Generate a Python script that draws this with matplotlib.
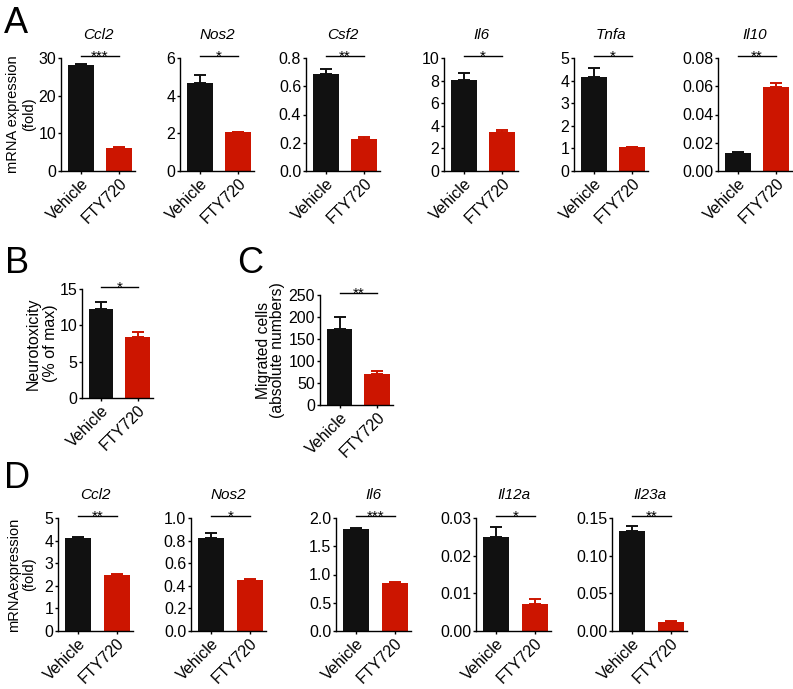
"""
Painéis A-D: expressão de mRNA, neurotoxicidade e migração (Vehicle x FTY720)
"""

import matplotlib.pyplot as plt
from matplotlib.ticker import FormatStrFormatter

plt.rcParams['font.family'] = ['Liberation Sans', 'DejaVu Sans']

# =============================================================
# Dados
# =============================================================

groups = ['Vehicle', 'FTY720']

# Painel A
a_genes = ['Ccl2', 'Nos2', 'Csf2', 'Il6', 'Tnfa', 'Il10']
a_vehicle = [28.2, 4.65, 0.69, 8.05, 4.15, 0.0130]
a_vehicle_err = [0.2, 0.45, 0.03, 0.65, 0.40, 0.0004]
a_fty = [6.2, 2.05, 0.225, 3.45, 1.05, 0.0595]
a_fty_err = [0.1, 0.02, 0.015, 0.15, 0.01, 0.0025]
a_ymax = [30, 6, 0.8, 10, 5, 0.08]
a_ystep = [10, 2, 0.2, 2, 1, 0.02]
a_decimals = [0, 0, 1, 0, 0, 2]
a_stars = ['***', '*', '**', '*', '*', '**']

# Painel B
b_values = [12.2, 8.4]
b_err = [1.0, 0.7]

# Painel C
c_values = [172, 71]
c_err = [27, 7]

# Painel D
d_genes = ['Ccl2', 'Nos2', 'Il6', 'Il12a', 'Il23a']
d_vehicle = [4.1, 0.82, 1.81, 0.025, 0.133]
d_vehicle_err = [0.05, 0.05, 0.01, 0.0025, 0.006]
d_fty = [2.5, 0.45, 0.85, 0.0072, 0.012]
d_fty_err = [0.02, 0.01, 0.02, 0.0014, 0.001]
d_ymax = [5, 1.0, 2.0, 0.03, 0.15]
d_ystep = [1, 0.2, 0.5, 0.01, 0.05]
d_decimals = [0, 1, 1, 2, 2]
d_stars = ['**', '*', '***', '*', '**']

# =============================================================
# Estilo e layout (pixels)
# =============================================================

W, H = 793, 689
BLACK = '#111111'
RED = '#cc1500'

fig = plt.figure(figsize=(W / 100, H / 100), dpi=100)


def add_axes_px(left, top, right, bottom):
    return fig.add_axes([left / W, 1 - bottom / H, (right - left) / W, (bottom - top) / H])


def draw_bars(ax, vals, errs, ymax, step, decimals, stars, title=None):
    xs = [0, 1]
    colors = [BLACK, RED]
    for x, v, e, c in zip(xs, vals, errs, colors):
        ax.bar(x, v, width=0.68, color=c, zorder=2)
        ax.errorbar(x, v, yerr=[[0], [e]], color=c, capsize=4.5,
                    elinewidth=1.4, capthick=1.4, zorder=1)
    ax.set_xlim(-0.52, 1.42)
    ax.set_ylim(0, ymax)
    n = int(round(ymax / step))
    ax.set_yticks([i * step for i in range(n + 1)])
    ax.yaxis.set_major_formatter(FormatStrFormatter(f'%.{decimals}f'))
    ax.set_xticks(xs)
    ax.set_xticklabels(groups, rotation=45, ha='right', rotation_mode='anchor', fontsize=11.5)
    for s in ['top', 'right']:
        ax.spines[s].set_visible(False)
    for s in ['left', 'bottom']:
        ax.spines[s].set_linewidth(1.0)
    ax.tick_params(direction='out', length=2.5, width=1.0, pad=1)
    ax.tick_params(axis='y', labelsize=11.5)
    # significância
    y_line = ymax * 1.015
    ax.plot([0, 1], [y_line, y_line], color='black', lw=1.0, clip_on=False)
    ax.annotate(stars, xy=(0.5, y_line), xytext=(0, -3.5), textcoords='offset points',
                ha='center', va='baseline', fontsize=11, annotation_clip=False)
    if title:
        ax.set_title(title, style='italic', fontsize=11, pad=14)


# =============================================================
# Painel A
# =============================================================

a_lefts = [61, 180, 306, 444, 574, 718]
for i, left in enumerate(a_lefts):
    ax = add_axes_px(left, 58, left + 74, 171)
    draw_bars(ax, [a_vehicle[i], a_fty[i]], [a_vehicle_err[i], a_fty_err[i]],
              a_ymax[i], a_ystep[i], a_decimals[i], a_stars[i], a_genes[i])
    if i == 0:
        ax.set_ylabel('mRNA expression\n(fold)', fontsize=10.5, linespacing=1.15)
        ax.yaxis.set_label_coords(-0.34, 0.5)

# =============================================================
# Painéis B e C
# =============================================================

ax_b = add_axes_px(82, 289, 153, 398)
draw_bars(ax_b, b_values, b_err, 15, 5, 0, '*')
ax_b.set_ylabel('Neurotoxicity\n(% of max)', fontsize=11.5, linespacing=1.15)
ax_b.yaxis.set_label_coords(-0.34, 0.5)

ax_c = add_axes_px(320, 295, 393, 405)
draw_bars(ax_c, c_values, c_err, 250, 50, 0, '**')
ax_c.set_ylabel('Migrated cells\n(absolute numbers)', fontsize=11.3, linespacing=0.95)
ax_c.yaxis.set_label_coords(-0.48, 0.5)

# =============================================================
# Painel D
# =============================================================

d_lefts = [58, 191, 336, 476, 612]
for i, left in enumerate(d_lefts):
    ax = add_axes_px(left, 518, left + 75, 631)
    draw_bars(ax, [d_vehicle[i], d_fty[i]], [d_vehicle_err[i], d_fty_err[i]],
              d_ymax[i], d_ystep[i], d_decimals[i], d_stars[i], d_genes[i])
    if i == 0:
        ax.set_ylabel('mRNAexpression\n(fold)', fontsize=10.5, linespacing=1.15)
        ax.yaxis.set_label_coords(-0.29, 0.5)

# Letras dos painéis
for letter, x, y in [('A', 4, 33), ('B', 5, 273), ('C', 237, 273), ('D', 4, 488)]:
    fig.text(x / W, 1 - y / H, letter, fontsize=26, ha='left', va='baseline')

fig.savefig('out.png', dpi=100)
